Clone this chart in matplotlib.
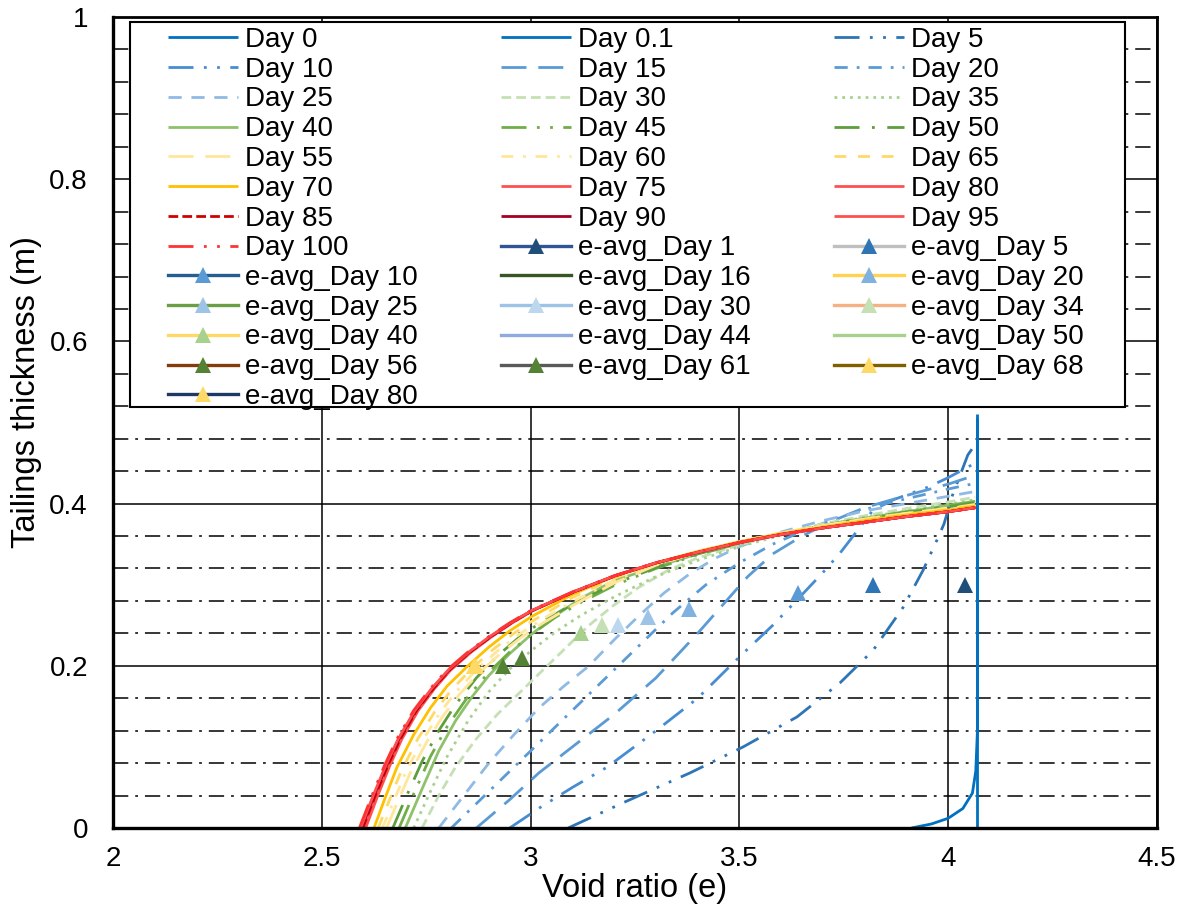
import matplotlib
matplotlib.use("Agg")
import matplotlib.pyplot as plt
from matplotlib.patches import Rectangle
from matplotlib.ticker import MultipleLocator, FuncFormatter

plt.rcParams['font.family'] = ['Liberation Sans', 'DejaVu Sans']
plt.rcParams['lines.scale_dashes'] = False

# ---------------- void ratio profiles (e, thickness in m) ----------------
e_day0 = [4.07, 4.07]
h_day0 = [0.0, 0.51]

e_day0_1 = [3.912, 3.96, 4.0, 4.035, 4.058, 4.066, 4.07, 4.07]
h_day0_1 = [0.0, 0.005, 0.012, 0.024, 0.043, 0.07, 0.12, 0.505]

e_day5 = [3.09, 3.221, 3.382, 3.509, 3.638, 3.741, 3.82, 3.892, 3.94, 3.973, 3.99, 4.01, 4.047, 4.069]
h_day5 = [0.0, 0.031, 0.068, 0.1, 0.137, 0.179, 0.219, 0.272, 0.318, 0.355, 0.375, 0.41, 0.46, 0.476]

e_day10 = [2.95, 3.022, 3.1, 3.183, 3.303, 3.4, 3.5, 3.58, 3.645, 3.7, 3.741, 3.789, 3.82, 3.87, 3.95, 4.0, 4.065]
h_day10 = [0.0, 0.025, 0.05, 0.075, 0.121, 0.16, 0.211, 0.25, 0.285, 0.315, 0.339, 0.371, 0.392, 0.405, 0.42, 0.432, 0.45]

e_day15 = [2.87, 2.95, 3.02, 3.1, 3.2, 3.3, 3.4, 3.46, 3.52, 3.58, 3.65, 3.72, 3.8, 3.9, 4.0, 4.065]
h_day15 = [0.0, 0.035, 0.068, 0.1, 0.14, 0.185, 0.24, 0.275, 0.31, 0.338, 0.36, 0.378, 0.395, 0.41, 0.424, 0.435]

e_day20 = [2.81, 2.88, 2.95, 3.02, 3.1, 3.18, 3.26, 3.34, 3.42, 3.5, 3.58, 3.66, 3.75, 3.85, 3.95, 4.0, 4.065]
h_day20 = [0.0, 0.035, 0.07, 0.105, 0.145, 0.185, 0.225, 0.265, 0.3, 0.327, 0.35, 0.368, 0.385, 0.4, 0.412, 0.418, 0.425]

e_day25 = [2.78, 2.84, 2.9, 2.96, 3.02, 3.08, 3.14, 3.2, 3.26, 3.32, 3.38, 3.44, 3.5, 3.6, 3.7, 3.8, 3.9, 4.0, 4.065]
h_day25 = [0.0, 0.04, 0.08, 0.115, 0.148, 0.175, 0.2, 0.232, 0.262, 0.29, 0.313, 0.332, 0.347, 0.365, 0.379, 0.391, 0.4, 0.409, 0.415]

e_day30 = [2.74, 2.78, 2.82, 2.87, 2.92, 2.97, 3.02, 3.08, 3.14, 3.2, 3.26, 3.33, 3.4, 3.5, 3.6, 3.7, 3.8, 3.9, 4.0, 4.065]
h_day30 = [0.0, 0.04, 0.075, 0.11, 0.14, 0.165, 0.19, 0.22, 0.25, 0.275, 0.297, 0.318, 0.333, 0.349, 0.363, 0.375, 0.385, 0.394, 0.402, 0.408]

e_day35 = [2.72, 2.76, 2.80, 2.85, 2.90, 2.95, 3.0, 3.06, 3.12, 3.2, 3.3, 3.4, 3.5, 3.6, 3.7, 3.8, 3.9, 4.0, 4.065]
h_day35 = [0.0, 0.045, 0.088, 0.132, 0.168, 0.196, 0.218, 0.242, 0.262, 0.285, 0.31, 0.33, 0.347, 0.361, 0.373, 0.383, 0.391, 0.399, 0.405]

e_day40 = [2.70, 2.74, 2.78, 2.82, 2.86, 2.9, 2.95, 3.0, 3.06, 3.12, 3.2, 3.3, 3.4, 3.5, 3.6, 3.7, 3.8, 3.9, 4.0, 4.065]
h_day40 = [0.0, 0.048, 0.095, 0.132, 0.162, 0.188, 0.215, 0.238, 0.262, 0.283, 0.305, 0.322, 0.338, 0.351, 0.363, 0.373, 0.382, 0.39, 0.398, 0.403]

e_day45 = [2.685, 2.72, 2.76, 2.80, 2.85, 2.9, 2.95, 3.0, 3.06, 3.12, 3.2, 3.3, 3.4, 3.5, 3.6, 3.7, 3.8, 3.9, 4.0, 4.065]
h_day45 = [0.0, 0.042, 0.088, 0.125, 0.162, 0.192, 0.217, 0.238, 0.26, 0.278, 0.299, 0.32, 0.337, 0.351, 0.363, 0.373, 0.382, 0.39, 0.397, 0.402]

e_day50 = [2.67, 2.70, 2.74, 2.78, 2.82, 2.87, 2.92, 2.97, 3.02, 3.1, 3.2, 3.3, 3.4, 3.5, 3.6, 3.7, 3.8, 3.9, 4.0, 4.065]
h_day50 = [0.0, 0.036, 0.082, 0.12, 0.152, 0.185, 0.212, 0.234, 0.252, 0.276, 0.301, 0.321, 0.338, 0.352, 0.363, 0.373, 0.381, 0.389, 0.396, 0.401]

e_day55 = [2.655, 2.68, 2.71, 2.75, 2.79, 2.83, 2.88, 2.93, 2.98, 3.03, 3.1, 3.2, 3.3, 3.4, 3.5, 3.6, 3.7, 3.8, 3.9, 4.0, 4.065]
h_day55 = [0.0, 0.03, 0.066, 0.105, 0.138, 0.165, 0.193, 0.216, 0.236, 0.253, 0.274, 0.302, 0.324, 0.34, 0.353, 0.364, 0.373, 0.381, 0.388, 0.394, 0.399]

e_day60 = [2.645, 2.67, 2.70, 2.74, 2.78, 2.82, 2.87, 2.92, 2.97, 3.02, 3.1, 3.2, 3.3, 3.4, 3.5, 3.6, 3.7, 3.8, 3.9, 4.0, 4.065]
h_day60 = [0.0, 0.03, 0.068, 0.107, 0.14, 0.167, 0.195, 0.218, 0.238, 0.255, 0.279, 0.305, 0.325, 0.34, 0.353, 0.364, 0.373, 0.381, 0.388, 0.394, 0.398]

e_day65 = [2.635, 2.66, 2.69, 2.73, 2.77, 2.81, 2.86, 2.91, 2.96, 3.0, 3.1, 3.2, 3.3, 3.4, 3.5, 3.6, 3.7, 3.8, 3.9, 4.0, 4.065]
h_day65 = [0.0, 0.032, 0.07, 0.11, 0.143, 0.17, 0.197, 0.22, 0.24, 0.254, 0.284, 0.308, 0.326, 0.341, 0.353, 0.363, 0.372, 0.38, 0.387, 0.393, 0.398]

e_day70 = [2.625, 2.65, 2.68, 2.72, 2.76, 2.80, 2.85, 2.90, 2.95, 3.0, 3.1, 3.2, 3.3, 3.4, 3.5, 3.6, 3.7, 3.8, 3.9, 4.0, 4.065]
h_day70 = [0.0, 0.035, 0.075, 0.115, 0.148, 0.175, 0.2, 0.223, 0.243, 0.26, 0.288, 0.31, 0.327, 0.341, 0.353, 0.363, 0.371, 0.379, 0.386, 0.392, 0.397]

# the late-stage profiles share one set of depths
h_late = [0.0, 0.04, 0.077, 0.11, 0.145, 0.172, 0.195, 0.217, 0.236, 0.253, 0.268,
          0.291, 0.311, 0.327, 0.34, 0.352, 0.362, 0.37, 0.377, 0.384, 0.39, 0.395]
e_day75 = [2.605, 2.634, 2.663, 2.692, 2.731, 2.77, 2.809, 2.858, 2.907, 2.956, 3.005,
           3.104, 3.203, 3.302, 3.402, 3.501, 3.601, 3.7, 3.8, 3.9, 4.0, 4.065]
e_day80 = [2.6, 2.63, 2.66, 2.69, 2.729, 2.768, 2.807, 2.856, 2.905, 2.955, 3.004,
           3.103, 3.202, 3.302, 3.401, 3.501, 3.6, 3.7, 3.8, 3.9, 4.0, 4.065]
e_day85 = [2.598, 2.628, 2.658, 2.688, 2.727, 2.767, 2.806, 2.855, 2.905, 2.954, 3.004,
           3.103, 3.202, 3.301, 3.401, 3.501, 3.6, 3.7, 3.8, 3.9, 4.0, 4.065]
e_day90 = [2.595, 2.625, 2.655, 2.685, 2.725, 2.765, 2.805, 2.854, 2.904, 2.953, 3.003,
           3.102, 3.202, 3.301, 3.401, 3.5, 3.6, 3.7, 3.8, 3.9, 4.0, 4.065]
e_day95 = [2.593, 2.623, 2.653, 2.683, 2.723, 2.763, 2.803, 2.852, 2.902, 2.952, 3.002,
           3.101, 3.201, 3.3, 3.4, 3.5, 3.6, 3.7, 3.8, 3.9, 4.0, 4.065]
e_day100 = [2.59, 2.62, 2.65, 2.68, 2.72, 2.76, 2.80, 2.85, 2.90, 2.95, 3.00,
            3.10, 3.20, 3.30, 3.40, 3.50, 3.60, 3.70, 3.80, 3.90, 4.00, 4.065]

day_labels = ["Day 0", "Day 0.1", "Day 5", "Day 10", "Day 15", "Day 20", "Day 25",
              "Day 30", "Day 35", "Day 40", "Day 45", "Day 50", "Day 55", "Day 60",
              "Day 65", "Day 70", "Day 75", "Day 80", "Day 85", "Day 90", "Day 95",
              "Day 100"]
day_e = [e_day0, e_day0_1, e_day5, e_day10, e_day15, e_day20, e_day25, e_day30,
         e_day35, e_day40, e_day45, e_day50, e_day55, e_day60, e_day65, e_day70,
         e_day75, e_day80, e_day85, e_day90, e_day95, e_day100]
day_h = [h_day0, h_day0_1, h_day5, h_day10, h_day15, h_day20, h_day25, h_day30,
         h_day35, h_day40, h_day45, h_day50, h_day55, h_day60, h_day65, h_day70,
         h_late, h_late, h_late, h_late, h_late, h_late]

# ---------------- average void ratio measurements ----------------
eavg_labels = ["e-avg_Day 1", "e-avg_Day 5", "e-avg_Day 10", "e-avg_Day 16",
               "e-avg_Day 20", "e-avg_Day 25", "e-avg_Day 30", "e-avg_Day 34",
               "e-avg_Day 40", "e-avg_Day 44", "e-avg_Day 50", "e-avg_Day 56",
               "e-avg_Day 61", "e-avg_Day 68", "e-avg_Day 80"]
eavg_e = [[4.04], [3.82], [3.64], [], [3.38], [3.28], [3.21], [3.17], [3.12],
          [], [], [2.98], [2.935], [2.87], [2.865]]
eavg_h = [[0.30], [0.30], [0.29], [], [0.27], [0.26], [0.25], [0.25], [0.24],
          [], [], [0.21], [0.20], [0.20], [0.20]]

# ---------------- styles ----------------
DDOT = (0, (18, 7.5, 2, 7.5, 2, 7.5))
LDASH = (0, (18, 8.5))
DASHDOT = (0, (9.5, 6.5, 2, 6.5))
DASH = (0, (9.5, 7))
SDASH = (0, (7, 3.6))
DOT = (0, (2, 3.6))
LDASHDOT = (0, (18, 9, 2, 9))
DASHDOT2 = (0, (8.5, 7, 2, 7))
DASH2 = (0, (8.5, 8.5))
SDASH2 = (0, (7, 3))

day_colors = ['#0070C0', '#0070C0', '#2E75B6', '#468CD2', '#5B9BD5', '#5B9BD5',
              '#8FBAE5', '#C5E0B4', '#A9D18E', '#8FC16A', '#70AD47', '#5F9E3D',
              '#FFE699', '#FFE699', '#FFD966', '#FFC000', '#FF5050', '#FF5050',
              '#D00000', '#A50021', '#FF5050', '#FF3333']
day_styles = ['-', '-', DDOT, DDOT, LDASH, DASHDOT, DASH, SDASH, DOT, '-', DDOT,
              LDASHDOT, LDASH, DASHDOT2, DASH2, '-', '-', '-', SDASH2, '-', '-', DDOT]

eavg_line_colors = ['#2F5597', '#BFBFBF', '#255E91', '#375623', '#FFD34F', '#6A9F45',
                    '#9DC3E6', '#F4B183', '#FFD966', '#8FAADC', '#A9D18E', '#843C0C',
                    '#595959', '#7F6000', '#203864']
eavg_marker_colors = ['#1F4E79', '#2E75B6', '#5B9BD5', None, '#7FB2E0', '#9DC3E6',
                      '#BDD7EE', '#C5E0B4', '#A9D18E', None, None, '#548235',
                      '#548235', '#FFD966', '#FFD966']

fig = plt.figure(figsize=(11.85, 9.09), dpi=100)
ax = fig.add_axes([113 / 1185, 81 / 909, 1044 / 1185, 811 / 909])

handles = []
for e, h, lab, col, ls in zip(day_e, day_h, day_labels, day_colors, day_styles):
    ln, = ax.plot(e, h, color=col, lw=2.0, linestyle=ls, dash_capstyle='butt',
                  solid_capstyle='butt', label=lab, zorder=2)
    handles.append(ln)

for e, h, lab, lc, mc in zip(eavg_e, eavg_h, eavg_labels, eavg_line_colors, eavg_marker_colors):
    if mc is None:
        ln, = ax.plot(e, h, color=lc, lw=2.4, linestyle='-', label=lab, zorder=3)
    else:
        ln, = ax.plot(e, h, color=lc, lw=2.4, linestyle='-', marker='^', markersize=11,
                      markerfacecolor=mc, markeredgecolor=mc, markeredgewidth=0,
                      label=lab, zorder=3)
    handles.append(ln)

ax.set_xlim(2, 4.5)
ax.set_ylim(0, 1)
ax.xaxis.set_major_locator(MultipleLocator(0.5))
ax.yaxis.set_major_locator(MultipleLocator(0.2))
ax.yaxis.set_minor_locator(MultipleLocator(0.04))
fmt = FuncFormatter(lambda v, p: f"{v:g}")
ax.xaxis.set_major_formatter(fmt)
ax.yaxis.set_major_formatter(fmt)

ax.set_axisbelow(True)
ax.grid(which='major', axis='both', color='black', lw=1.1)
ax.grid(which='minor', axis='y', color='black', lw=1.1, linestyle=(0, (11, 5, 2, 5)))

ax.tick_params(which='both', length=0)
ax.tick_params(axis='x', labelsize=20, pad=13)
ax.tick_params(axis='y', labelsize=20, pad=18)

for side in ['left', 'bottom']:
    ax.spines[side].set_linewidth(2.4)
for side in ['top', 'right']:
    ax.spines[side].set_linewidth(2.0)

ax.set_xlabel('Void ratio (e)', fontsize=23.5)
ax.set_ylabel('Tailings thickness (m)', fontsize=23.5)
ax.xaxis.set_label_coords(0.5, -0.055)
ax.yaxis.set_label_coords(-0.068, 0.537)

# legend frame drawn separately so the entries can sit where they belong
ax.add_patch(Rectangle((0.0163, 0.519), 0.953, 0.4748, transform=ax.transAxes,
                       facecolor='white', edgecolor='black', lw=1.5, zorder=4,
                       clip_on=False))

ncol = 3
rows = [handles[i:i + ncol] for i in range(0, len(handles), ncol)]
ordered = []
for c in range(ncol):
    for r in rows:
        if c < len(r):
            ordered.append(r[c])
leg = ax.legend(ordered, [h.get_label() for h in ordered], ncol=ncol,
                loc='upper left', bbox_to_anchor=(168 / 1185, 1 - 27 / 909),
                bbox_transform=fig.transFigure, frameon=False, fontsize=20,
                handlelength=2.52, handletextpad=0.25, columnspacing=3.0,
                labelspacing=0.135, borderpad=0, borderaxespad=0, numpoints=1)
leg.set_zorder(5)

fig.savefig('out.png', dpi=100)
